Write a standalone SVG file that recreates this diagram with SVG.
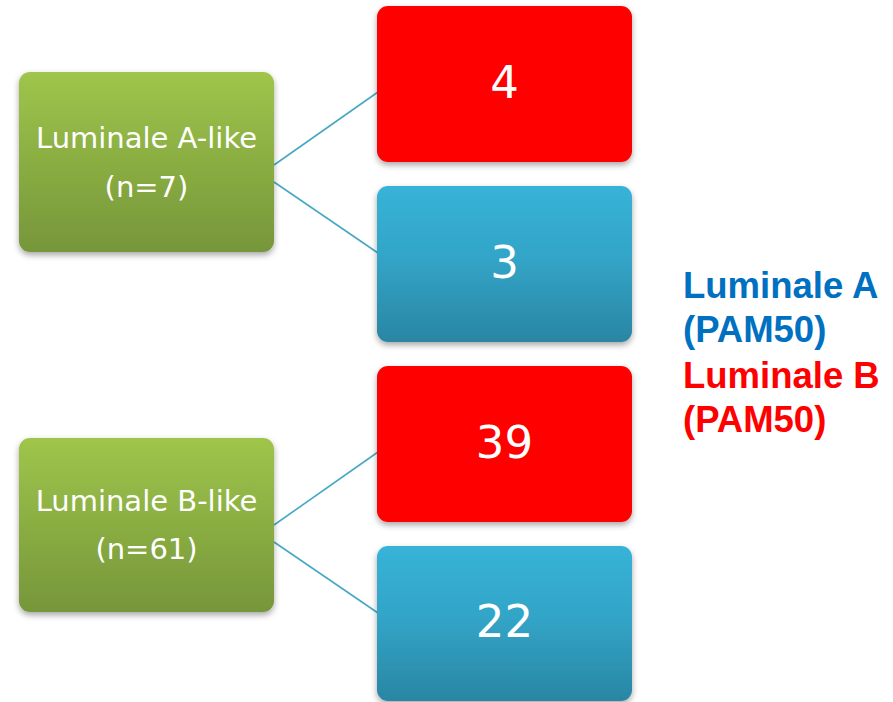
<svg xmlns="http://www.w3.org/2000/svg" width="893" height="702" viewBox="0 0 893 702">
<defs>
<linearGradient id="gGreen" x1="0" y1="0" x2="0" y2="1">
<stop offset="0" stop-color="#9FC54B"/><stop offset="1" stop-color="#76963A"/>
</linearGradient>
<linearGradient id="gBlue" x1="0" y1="0" x2="0" y2="1">
<stop offset="0" stop-color="#37B3D7"/><stop offset="0.45" stop-color="#32A5C8"/><stop offset="1" stop-color="#2A86A3"/>
</linearGradient>
<filter id="sh" x="-10%" y="-10%" width="120%" height="125%">
<feDropShadow dx="0" dy="3" stdDeviation="3" flood-color="#000" flood-opacity="0.35"/>
</filter>
</defs>
<style>
.box{filter:url(#sh)}
.green{fill:url(#gGreen)}
.blue{fill:url(#gBlue)}
.red{fill:#FF0000}
.lbl{font-family:"DejaVu Sans","Open Sans",sans-serif;fill:#fff;text-anchor:middle}
.small{font-size:29px}
.num{font-size:45px}
.conn{stroke:#46A9C4;stroke-width:1.6;fill:none}
.leg{font-family:"Liberation Sans",Arial,sans-serif;font-weight:bold;font-size:36.5px}
</style>
<rect width="893" height="702" fill="#fff"/>
<g id="connectors">
<line class="conn" x1="274" y1="165" x2="378" y2="92"/>
<line class="conn" x1="274" y1="182" x2="378" y2="253"/>
<line class="conn" x1="274" y1="525" x2="378" y2="452"/>
<line class="conn" x1="274" y1="542" x2="378" y2="613"/>
</g>
<g id="lumA">
<rect class="box green" x="19" y="72" width="255" height="180" rx="11"/>
<text class="lbl small" x="146.5" y="148">Luminale A-like</text>
<text class="lbl small" x="146.5" y="197">(n=7)</text>
</g>
<g id="lumB">
<rect class="box green" x="19" y="438" width="255" height="174" rx="11"/>
<text class="lbl small" x="146.5" y="511">Luminale B-like</text>
<text class="lbl small" x="146.5" y="559">(n=61)</text>
</g>
<g id="a4">
<rect class="box red" x="377" y="6" width="255" height="156" rx="11"/>
<text class="lbl num" x="504.5" y="98">4</text>
</g>
<g id="a3">
<rect class="box blue" x="377" y="186" width="255" height="156" rx="11"/>
<text class="lbl num" x="504.5" y="278">3</text>
</g>
<g id="b39">
<rect class="box red" x="377" y="366" width="255" height="156" rx="11"/>
<text class="lbl num" x="504.5" y="458">39</text>
</g>
<g id="b22">
<rect class="box blue" x="377" y="546" width="255" height="155" rx="11"/>
<text class="lbl num" x="504.5" y="637">22</text>
</g>
<g id="legend">
<text class="leg" x="683" y="298" fill="#0070C0">Luminale A</text>
<text class="leg" x="683" y="342" fill="#0070C0">(PAM50)</text>
<text class="leg" x="683" y="388" fill="#FF0000">Luminale B</text>
<text class="leg" x="683" y="432" fill="#FF0000">(PAM50)</text>
</g>
</svg>
